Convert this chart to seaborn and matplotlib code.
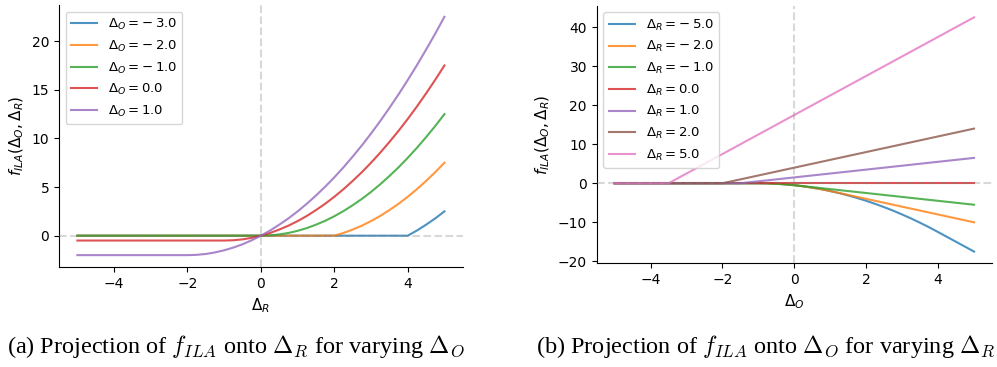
import numpy as np
import pandas as pd
import matplotlib
matplotlib.use("Agg")
import matplotlib.pyplot as plt
import seaborn as sns

# eixo comum das duas projeções (passo de 0.25)
grade = [-5.0, -4.75, -4.5, -4.25, -4.0, -3.75, -3.5, -3.25, -3.0, -2.75,
         -2.5, -2.25, -2.0, -1.75, -1.5, -1.25, -1.0, -0.75, -0.5, -0.25,
         0.0, 0.25, 0.5, 0.75, 1.0, 1.25, 1.5, 1.75, 2.0, 2.25,
         2.5, 2.75, 3.0, 3.25, 3.5, 3.75, 4.0, 4.25, 4.5, 4.75, 5.0]

# (a) f_ILA em função de Delta_R, para Delta_O fixo
delta_o_fixos = [-3.0, -2.0, -1.0, 0.0, 1.0]
proj_r_m3 = [0, 0, 0, 0, 0, 0, 0, 0, 0, 0,
             0, 0, 0, 0, 0, 0, 0, 0, 0, 0,
             0, 0, 0, 0, 0, 0, 0, 0, 0, 0,
             0, 0, 0, 0, 0, 0, 0, 0.53, 1.13, 1.78, 2.5]
proj_r_m2 = [0, 0, 0, 0, 0, 0, 0, 0, 0, 0,
             0, 0, 0, 0, 0, 0, 0, 0, 0, 0,
             0, 0, 0, 0, 0, 0, 0, 0, 0, 0.28,
             0.63, 1.03, 1.5, 2.03, 2.63, 3.28, 4.0, 4.78, 5.63, 6.53, 7.5]
proj_r_m1 = [0, 0, 0, 0, 0, 0, 0, 0, 0, 0,
             0, 0, 0, 0, 0, 0, 0, 0, 0, 0,
             0, 0.03, 0.13, 0.28, 0.5, 0.78, 1.13, 1.53, 2.0, 2.53,
             3.13, 3.78, 4.5, 5.28, 6.13, 7.03, 8.0, 9.03, 10.13, 11.28, 12.5]
proj_r_0 = [-0.5, -0.5, -0.5, -0.5, -0.5, -0.5, -0.5, -0.5, -0.5, -0.5,
            -0.5, -0.5, -0.5, -0.5, -0.5, -0.5, -0.5, -0.47, -0.38, -0.22,
            0.0, 0.28, 0.63, 1.03, 1.5, 2.03, 2.63, 3.28, 4.0, 4.78,
            5.63, 6.53, 7.5, 8.53, 9.63, 10.78, 12.0, 13.28, 14.63, 16.03, 17.5]
proj_r_p1 = [-2, -2, -2, -2, -2, -2, -2, -2, -2, -2,
             -2, -2, -2, -1.97, -1.88, -1.72, -1.5, -1.22, -0.88, -0.47,
             0.0, 0.53, 1.13, 1.78, 2.5, 3.28, 4.13, 5.03, 6.0, 7.03,
             8.13, 9.28, 10.5, 11.78, 13.13, 14.53, 16.0, 17.53, 19.13, 20.78, 22.5]

# (b) f_ILA em função de Delta_O, para Delta_R fixo
delta_r_fixos = [-5.0, -2.0, -1.0, 0.0, 1.0, 2.0, 5.0]
proj_o_m5 = [0, 0, 0, 0, 0, 0, 0, 0, 0, 0,
             0, 0, 0, 0, 0, 0, 0, -0.03, -0.13, -0.28,
             -0.5, -0.78, -1.13, -1.53, -2.0, -2.53, -3.13, -3.78, -4.5, -5.28,
             -6.13, -7.03, -8.0, -9.03, -10.13, -11.28, -12.5, -13.75, -15.0, -16.25, -17.5]
proj_o_m2 = [0, 0, 0, 0, 0, 0, 0, 0, 0, 0,
             0, 0, 0, 0, 0, 0, 0, -0.03, -0.13, -0.28,
             -0.5, -0.78, -1.13, -1.53, -2.0, -2.5, -3.0, -3.5, -4.0, -4.5,
             -5.0, -5.5, -6.0, -6.5, -7.0, -7.5, -8.0, -8.5, -9.0, -9.5, -10.0]
proj_o_m1 = [0, 0, 0, 0, 0, 0, 0, 0, 0, 0,
             0, 0, 0, 0, 0, 0, 0, -0.03, -0.13, -0.28,
             -0.5, -0.75, -1.0, -1.25, -1.5, -1.75, -2.0, -2.25, -2.5, -2.75,
             -3.0, -3.25, -3.5, -3.75, -4.0, -4.25, -4.5, -4.75, -5.0, -5.25, -5.5]
proj_o_0 = [0, 0, 0, 0, 0, 0, 0, 0, 0, 0,
            0, 0, 0, 0, 0, 0, 0, 0, 0, 0,
            0, 0, 0, 0, 0, 0, 0, 0, 0, 0,
            0, 0, 0, 0, 0, 0, 0, 0, 0, 0, 0]
proj_o_p1 = [0, 0, 0, 0, 0, 0, 0, 0, 0, 0,
             0, 0, 0, 0, 0, 0.25, 0.5, 0.75, 1.0, 1.25,
             1.5, 1.75, 2.0, 2.25, 2.5, 2.75, 3.0, 3.25, 3.5, 3.75,
             4.0, 4.25, 4.5, 4.75, 5.0, 5.25, 5.5, 5.75, 6.0, 6.25, 6.5]
proj_o_p2 = [0, 0, 0, 0, 0, 0, 0, 0, 0, 0,
             0, 0, 0, 0.5, 1.0, 1.5, 2.0, 2.5, 3.0, 3.5,
             4.0, 4.5, 5.0, 5.5, 6.0, 6.5, 7.0, 7.5, 8.0, 8.5,
             9.0, 9.5, 10.0, 10.5, 11.0, 11.5, 12.0, 12.5, 13.0, 13.5, 14.0]
proj_o_p5 = [0, 0, 0, 0, 0, 0, 0, 1.25, 2.5, 3.75,
             5.0, 6.25, 7.5, 8.75, 10.0, 11.25, 12.5, 13.75, 15.0, 16.25,
             17.5, 18.75, 20.0, 21.25, 22.5, 23.75, 25.0, 26.25, 27.5, 28.75,
             30.0, 31.25, 32.5, 33.75, 35.0, 36.25, 37.5, 38.75, 40.0, 41.25, 42.5]


def montar_df(fixos, series, nome):
    partes = []
    for v, ys in zip(fixos, series):
        if v < 0:
            rotulo = "$\\Delta_%s = -\\:%.1f$" % (nome, abs(v))
        else:
            rotulo = "$\\Delta_%s = %.1f$" % (nome, v)
        partes.append(pd.DataFrame({"x": grade, "y": ys, "rotulo": rotulo}))
    return pd.concat(partes, ignore_index=True)


dados_a = montar_df(delta_o_fixos, [proj_r_m3, proj_r_m2, proj_r_m1, proj_r_0, proj_r_p1], "O")
dados_b = montar_df(delta_r_fixos, [proj_o_m5, proj_o_m2, proj_o_m1, proj_o_0,
                                    proj_o_p1, proj_o_p2, proj_o_p5], "R")

fig = plt.figure(figsize=(9.97, 3.67), dpi=100)
ax_a = fig.add_axes([0.0592, 0.273, 0.405, 0.713])
ax_b = fig.add_axes([0.5985, 0.2826, 0.3965, 0.702])

for ax, dados, xlab in [(ax_a, dados_a, "$\\Delta_R$"), (ax_b, dados_b, "$\\Delta_O$")]:
    ordem = list(dict.fromkeys(dados["rotulo"]))
    sns.lineplot(data=dados, x="x", y="y", hue="rotulo", hue_order=ordem,
                 palette="tab10", alpha=0.8, ax=ax, sort=False)
    # linhas de referência por cima das curvas
    ax.axhline(0, color="gray", alpha=0.3, ls="--", lw=1.5, zorder=3)
    ax.axvline(0, color="gray", alpha=0.3, ls="--", lw=1.5, zorder=3)
    ax.legend(loc="upper left", fontsize=9.5)
    ax.set_xlabel(xlab, fontsize=11)
    ax.set_ylabel("$f_{ILA}(\\Delta_O, \\Delta_R)$", fontsize=11)
    ax.set_xticks([-4, -2, 0, 2, 4])
    ax.tick_params(labelsize=10)
    sns.despine(ax=ax)

ax_a.set_xlim(-5.5, 5.5)
ax_a.set_ylim(-3.2, 23.7)
ax_b.set_xlim(-5.5, 5.5)
ax_b.set_ylim(-20.5, 45.5)

fig.text(0.237, 1 - 346 / 367, "(a) Projection of $f_{ILA}$ onto $\\Delta_R$ for varying $\\Delta_O$",
         ha="center", va="center", fontsize=17.5, family="Liberation Serif", math_fontfamily="cm")
fig.text(0.768, 1 - 346 / 367, "(b) Projection of $f_{ILA}$ onto $\\Delta_O$ for varying $\\Delta_R$",
         ha="center", va="center", fontsize=17.5, family="Liberation Serif", math_fontfamily="cm")

fig.savefig("out.png", dpi=100)
